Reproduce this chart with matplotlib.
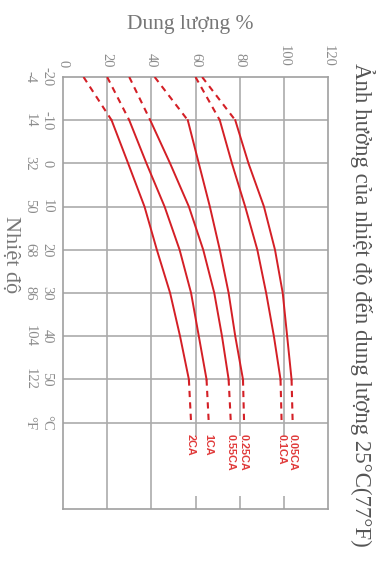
import matplotlib
matplotlib.use("Agg")
import matplotlib.pyplot as plt
import numpy as np

# temperature (deg C) and capacity (%)
temps_solid = [-10, 0, 10, 20, 30, 40, 50]
rates = ["0.05CA", "0.1CA", "0.25CA", "0.55CA", "1CA", "2CA"]
cap_005 = [78, 84, 91, 96, 99.5, 101.5, 103.5]
cap_01 = [71, 76.5, 82.5, 88, 92, 95.5, 98.5]
cap_025 = [56.5, 61.5, 66.5, 71, 75, 78, 81.5]
cap_055 = [39.5, 48.5, 57, 63.5, 68.5, 72, 75]
cap_1 = [30, 37.8, 46, 52.8, 58, 61.5, 65]
cap_2 = [22, 29.5, 36.9, 42.5, 48.5, 53, 57]
cap_at_m20 = [63, 60, 41.5, 30, 20, 9.3]   # dashed start at -20 C
cap_at_60 = [104, 99, 82, 76, 66, 58]      # dashed end at 60 C

c_ticks = [-20, -10, 0, 10, 20, 30, 40, 50, 60]
c_labels = ["-20", "-10", "0", "10", "20", "30", "40", "50", "°C"]
f_labels = ["-4", "14", "32", "50", "68", "86", "104", "122", "°F"]
cap_ticks = [0, 20, 40, 60, 80, 100, 120]

red = "#d41f26"
grid_c = "#ababab"
tick_c = "#8c8c8c"
serif = "Liberation Serif"

fig = plt.figure(figsize=(3.82, 5.72), dpi=100)
ax = fig.add_axes([63 / 382, 1 - 509 / 572, 265 / 382, 432 / 572])
ax.set_xlim(0, 120)
ax.set_ylim(80, -20)

# grid: horizontal lines every 10 C up to 60, vertical lines broken under labels
for t in c_ticks[1:]:
    ax.axhline(t, color=grid_c, lw=1.2, zorder=1)
for c in cap_ticks[1:-1]:
    if c >= 60:
        ax.vlines(c, -20, 63, color=grid_c, lw=1.2, zorder=1)
        ax.vlines(c, 77, 80, color=grid_c, lw=1.2, zorder=1)
    else:
        ax.vlines(c, -20, 80, color=grid_c, lw=1.2, zorder=1)

curves = [cap_005, cap_01, cap_025, cap_055, cap_1, cap_2]
for i, cap in enumerate(curves):
    ax.plot(cap, temps_solid, color=red, lw=1.4, zorder=3)
    ax.plot([cap_at_m20[i], cap[0]], [-20, -10], color=red, lw=1.5,
            ls=(0, (3, 2.5)), zorder=3)
    ax.plot([cap[-1], cap_at_60[i]], [50, 60], color=red, lw=1.5,
            ls=(0, (3, 2.5)), zorder=3)
    ax.text(cap_at_60[i], 62.6, rates[i], rotation=-90, ha="center", va="top",
            color="#e03a3a", fontsize=7.8, fontweight="bold",
            family="Liberation Sans", zorder=4)

for s in ax.spines.values():
    s.set_color("#a0a0a0")
    s.set_linewidth(1.2)

ax.xaxis.tick_top()
ax.set_xticks(cap_ticks)
ax.set_xticklabels([str(v) for v in cap_ticks], rotation=-90, color=tick_c,
                   fontsize=10.5, family=serif)
ax.set_yticks(c_ticks)
ax.set_yticklabels(c_labels, rotation=-90, color=tick_c, fontsize=10.5,
                   family=serif, va="center")
ax.tick_params(length=0, pad=7)

for t, lab in zip(c_ticks, f_labels):
    ax.text(-0.125, t, lab, transform=ax.get_yaxis_transform(), rotation=-90,
            ha="center", va="center", color=tick_c, fontsize=10.5, family=serif)

fig.text(190 / 382, 1 - 25 / 572, "Dung lượng %", ha="center", va="center",
         color="#777777", fontsize=15.5, family=serif)
fig.text(11 / 382, 1 - 255 / 572, "Nhiệt độ", rotation=-90, ha="center",
         va="center", color="#777777", fontsize=16, family=serif)
fig.text(362 / 382, 1 - 305 / 572,
         "Ảnh hưởng của nhiệt độ đến dung lượng 25°C(77°F)", rotation=-90,
         ha="center", va="center", color="#555555", fontsize=16.5, family=serif)

fig.savefig("out.png", dpi=100)
